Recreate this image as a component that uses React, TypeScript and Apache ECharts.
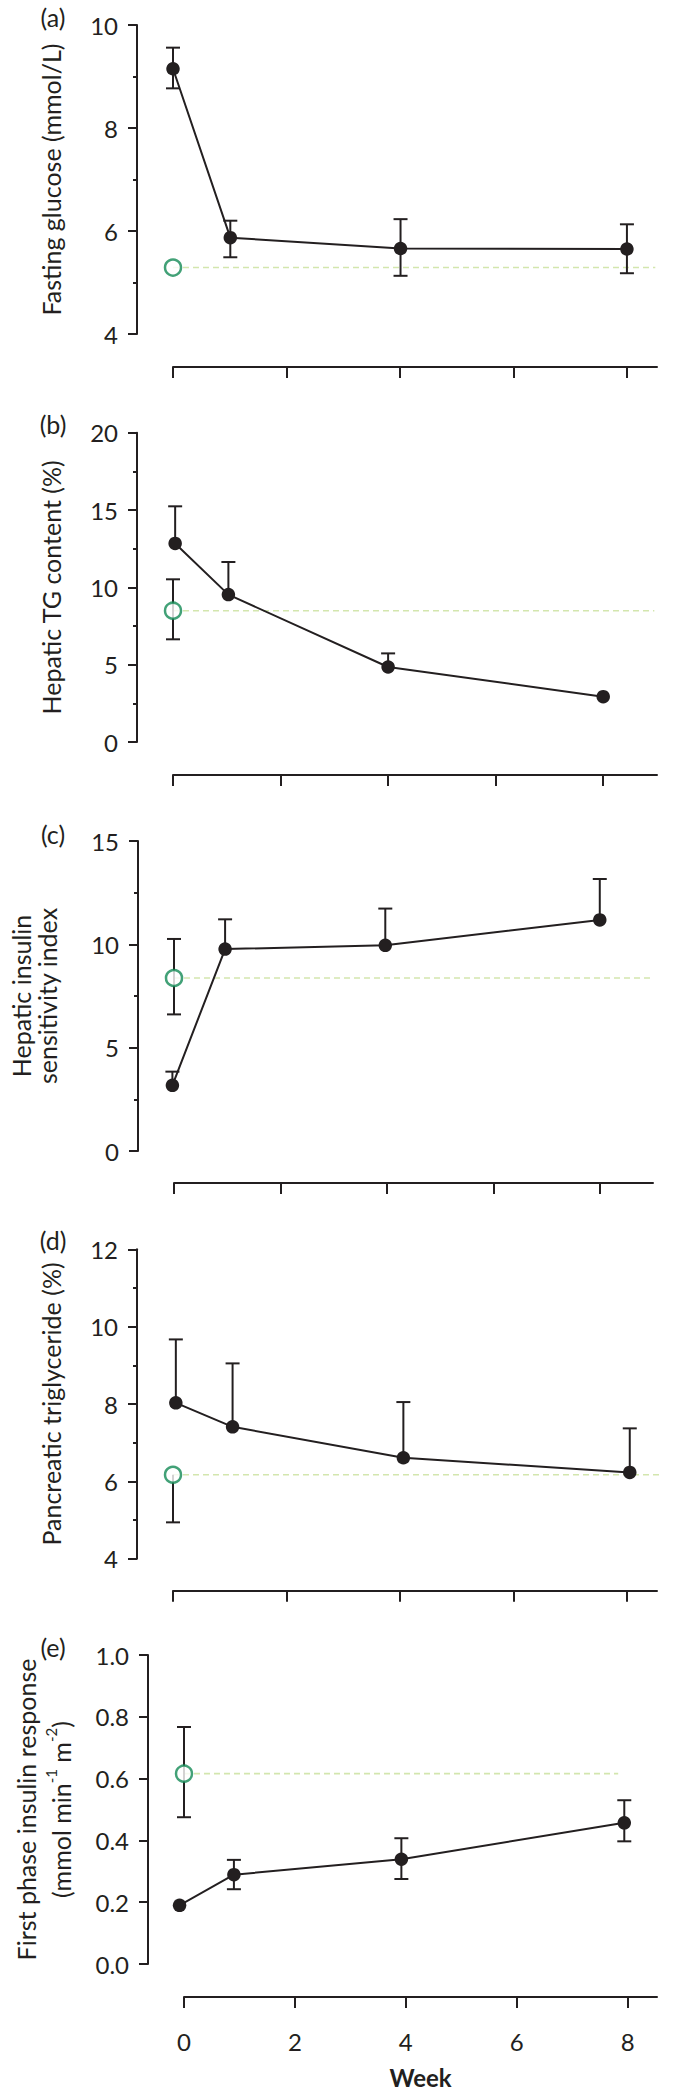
import React, { useEffect, useRef } from "react";
import * as echarts from "echarts";

// ---------------- data ----------------
const xTicks = [0, 2, 4, 6, 8];

// (a) Fasting glucose
const weeksA = [0, 1.01, 4.01, 8];
const meanA = [9.15, 5.87, 5.66, 5.65];
const upA = [9.56, 6.2, 6.23, 6.13];
const loA = [8.77, 5.49, 5.13, 5.18];
const ctrlA = 5.29;
const ctrlUpA: number | null = null;
const ctrlLoA: number | null = null;
const refEndA = 8.5;

// (b) Hepatic TG content
const weeksB = [0.04, 1.03, 4, 8];
const meanB = [12.84, 9.53, 4.85, 2.93];
const upB = [15.24, 11.64, 5.73, null];
const loB = [null, null, null, null];
const ctrlB = 8.49;
const ctrlUpB = 10.52;
const ctrlLoB = 6.64;
const refEndB = 8.95;

// (c) Hepatic insulin sensitivity index
const weeksC = [-0.03, 0.96, 3.97, 8];
const meanC = [3.18, 9.77, 9.95, 11.18];
const upC = [3.84, 11.21, 11.73, 13.16];
const loC = [null, null, null, null];
const ctrlC = 8.37;
const ctrlUpC = 10.26;
const ctrlLoC = 6.61;
const refEndC = 8.98;

// (d) Pancreatic triglyceride
const weeksD = [0.05, 1.05, 4.06, 8.05];
const meanD = [8.03, 7.41, 6.61, 6.23];
const upD = [9.67, 9.05, 8.05, 7.37];
const loD = [null, null, null, null];
const ctrlD = 6.17;
const ctrlUpD: number | null = null;
const ctrlLoD = 4.94;
const refEndD = 9.0;

// (e) First phase insulin response
const weeksE = [-0.08, 0.9, 3.92, 7.94];
const meanE = [0.19, 0.289, 0.339, 0.457];
const upE = [null, 0.337, 0.407, 0.53];
const loE = [null, 0.242, 0.275, 0.397];
const ctrlE = 0.616;
const ctrlUpE = 0.767;
const ctrlLoE = 0.475;
const refEndE = 7.83;

const panelLabels = ["(a)", "(b)", "(c)", "(d)", "(e)"];

// ---------------- styles ----------------
const INK = "#231f20";
const GREEN = "#138a55";
const REF = "#d3e6ae";
const FONT = "Lato, 'Open Sans', sans-serif";
const FS = 24;
const NFS = 25;

interface Panel {
  weeks: number[];
  mean: number[];
  up: (number | null)[];
  lo: (number | null)[];
  ctrl: number;
  ctrlUp: number | null;
  ctrlLo: number | null;
  refEnd: number;
  yMin: number;
  yMax: number;
  yInterval: number;
  minor: boolean;
  name: string;
  nameGap: number;
  lineHeight: number;
  top: number;
  height: number;
  width: number;
  xMax: number;
  xOffset: number;
  decimals: number;
  labelY: number;
}

const panels: Panel[] = [
  {
    weeks: weeksA, mean: meanA, up: upA, lo: loA, ctrl: ctrlA, ctrlUp: ctrlUpA, ctrlLo: ctrlLoA, refEnd: refEndA,
    yMin: 4, yMax: 10, yInterval: 2, minor: true, name: "Fasting glucose (mmol/L)", nameGap: 72, lineHeight: 28,
    top: 25, height: 309, width: 484, xMax: 8.53, xOffset: 33, decimals: 0, labelY: 17,
  },
  {
    weeks: weeksB, mean: meanB, up: upB, lo: loB, ctrl: ctrlB, ctrlUp: ctrlUpB, ctrlLo: ctrlLoB, refEnd: refEndB,
    yMin: 0, yMax: 20, yInterval: 5, minor: true, name: "Hepatic TG content (%)", nameGap: 72, lineHeight: 28,
    top: 432.7, height: 309.3, width: 484, xMax: 9.0, xOffset: 33, decimals: 0, labelY: 424,
  },
  {
    weeks: weeksC, mean: meanC, up: upC, lo: loC, ctrl: ctrlC, ctrlUp: ctrlUpC, ctrlLo: ctrlLoC, refEnd: refEndC,
    yMin: 0, yMax: 15, yInterval: 5, minor: true, name: "Hepatic insulin\nsensitivity index", nameGap: 78, lineHeight: 26,
    top: 841, height: 310, width: 480, xMax: 9.0, xOffset: 32, decimals: 0, labelY: 834,
  },
  {
    weeks: weeksD, mean: meanD, up: upD, lo: loD, ctrl: ctrlD, ctrlUp: ctrlUpD, ctrlLo: ctrlLoD, refEnd: refEndD,
    yMin: 4, yMax: 12, yInterval: 2, minor: true, name: "Pancreatic triglyceride (%)", nameGap: 72, lineHeight: 28,
    top: 1249.3, height: 309.4, width: 484, xMax: 8.53, xOffset: 32, decimals: 0, labelY: 1240,
  },
  {
    weeks: weeksE, mean: meanE, up: upE, lo: loE, ctrl: ctrlE, ctrlUp: ctrlUpE, ctrlLo: ctrlLoE, refEnd: refEndE,
    yMin: 0, yMax: 1, yInterval: 0.2, minor: false,
    name: "{a|First phase insulin response}\n{a|(mmol min}{s|-1}{a| m}{s|-2}{a|)}", nameGap: 70, lineHeight: 35,
    top: 1655, height: 309, width: 484, xMax: 8.53, xOffset: 33, decimals: 1, labelY: 1647,
  },
];

const GRID_LEFT = 173;
const Y_OFFSET = 36;

function errRender(params: any, api: any) {
  const x = api.value(0);
  const lo = api.value(1);
  const hi = api.value(2);
  const capLo = api.value(3);
  const capHi = api.value(4);
  const pHi = api.coord([x, hi]);
  const pLo = api.coord([x, lo]);
  const half = 7;
  const style = { stroke: INK, lineWidth: 2 };
  const children: any[] = [
    { type: "line", shape: { x1: pHi[0], y1: pHi[1], x2: pLo[0], y2: pLo[1] }, style },
  ];
  if (capHi) {
    children.push({ type: "line", shape: { x1: pHi[0] - half, y1: pHi[1], x2: pHi[0] + half, y2: pHi[1] }, style });
  }
  if (capLo) {
    children.push({ type: "line", shape: { x1: pLo[0] - half, y1: pLo[1], x2: pLo[0] + half, y2: pLo[1] }, style });
  }
  return { type: "group", children };
}

function buildOption() {
  const grid: any[] = [];
  const xAxis: any[] = [];
  const yAxis: any[] = [];
  const series: any[] = [];
  const graphic: any[] = [];

  panels.forEach((p, i) => {
    const isLast = i === panels.length - 1;
    grid.push({ left: GRID_LEFT, top: p.top, width: p.width, height: p.height, containLabel: false });
    xAxis.push({
      type: "value",
      gridIndex: i,
      min: 0,
      max: p.xMax,
      offset: p.xOffset,
      axisLine: { show: true, onZero: false, lineStyle: { color: INK, width: 2 } },
      axisTick: { show: true, customValues: xTicks, length: 11, lineStyle: { color: INK, width: 2 } },
      axisLabel: {
        show: isLast,
        customValues: xTicks,
        margin: 32,
        fontSize: FS,
        fontFamily: FONT,
        color: INK,
      },
      splitLine: { show: false },
      name: isLast ? "Week" : "",
      nameLocation: "middle",
      nameGap: 68,
      nameTextStyle: { fontSize: FS, fontFamily: FONT, fontWeight: "bold", color: INK },
    });
    yAxis.push({
      type: "value",
      gridIndex: i,
      min: p.yMin,
      max: p.yMax,
      interval: p.yInterval,
      offset: Y_OFFSET,
      axisLine: { show: true, onZero: false, lineStyle: { color: INK, width: 2 } },
      axisTick: { show: true, length: 9, lineStyle: { color: INK, width: 2 } },
      minorTick: { show: p.minor, splitNumber: 2, length: 4, lineStyle: { color: INK, width: 2 } },
      minorSplitLine: { show: false },
      splitLine: { show: false },
      axisLabel: {
        margin: 19,
        fontSize: FS,
        fontFamily: FONT,
        color: INK,
        formatter: (v: number) => v.toFixed(p.decimals),
      },
      name: p.name,
      nameLocation: "middle",
      nameGap: p.nameGap,
      nameTextStyle: {
        fontSize: NFS,
        fontFamily: FONT,
        color: INK,
        lineHeight: p.lineHeight,
        rich: {
          a: { fontSize: NFS, fontFamily: FONT, color: INK, lineHeight: p.lineHeight },
          s: { fontSize: 15, fontFamily: FONT, color: INK, verticalAlign: "top", lineHeight: p.lineHeight, padding: [0, 0, 12, 0] },
        },
      },
    });

    // reference dashed line
    series.push({
      type: "line",
      xAxisIndex: i,
      yAxisIndex: i,
      data: [[0, p.ctrl], [p.refEnd, p.ctrl]],
      symbol: "none",
      clip: false,
      silent: true,
      lineStyle: { color: REF, width: 1.6, type: [6, 4] },
      z: 1,
    });

    // error bars
    const errData: number[][] = [];
    p.weeks.forEach((w, k) => {
      const u = p.up[k];
      const l = p.lo[k];
      if (u == null && l == null) return;
      errData.push([w, l == null ? p.mean[k] : l, u == null ? p.mean[k] : u, l == null ? 0 : 1, u == null ? 0 : 1]);
    });
    if (p.ctrlUp != null || p.ctrlLo != null) {
      errData.push([
        0,
        p.ctrlLo == null ? p.ctrl : p.ctrlLo,
        p.ctrlUp == null ? p.ctrl : p.ctrlUp,
        p.ctrlLo == null ? 0 : 1,
        p.ctrlUp == null ? 0 : 1,
      ]);
    }
    series.push({
      type: "custom",
      xAxisIndex: i,
      yAxisIndex: i,
      data: errData,
      renderItem: errRender,
      clip: false,
      silent: true,
      z: 2,
    });

    // patient means
    series.push({
      type: "line",
      xAxisIndex: i,
      yAxisIndex: i,
      data: p.weeks.map((w, k) => [w, p.mean[k]]),
      symbol: "circle",
      symbolSize: 13.5,
      clip: false,
      silent: true,
      itemStyle: { color: INK, borderWidth: 0 },
      lineStyle: { color: INK, width: 2 },
      z: 3,
    });

    // control (open circle)
    series.push({
      type: "scatter",
      xAxisIndex: i,
      yAxisIndex: i,
      data: [[0, p.ctrl]],
      symbol: "circle",
      symbolSize: 16,
      clip: false,
      silent: true,
      itemStyle: { color: "#ffffff", borderColor: GREEN, borderWidth: 2.5 },
      z: 4,
    });

    graphic.push({
      type: "text",
      x: 53,
      y: p.labelY,
      style: {
        text: panelLabels[i],
        fontSize: NFS,
        fontFamily: FONT,
        fill: INK,
        textAlign: "center",
        textVerticalAlign: "middle",
      },
    });
  });

  return {
    animation: false,
    backgroundColor: "#ffffff",
    grid,
    xAxis,
    yAxis,
    series,
    graphic,
  };
}

export default function App() {
  const ref = useRef<HTMLDivElement>(null);
  useEffect(() => {
    if (!ref.current) return;
    const chart = echarts.init(ref.current, undefined, { renderer: "svg" });
    chart.setOption(buildOption() as any);
    return () => chart.dispose();
  }, []);
  return (
    <div
      ref={ref}
      style={{ position: "absolute", left: 0, top: 0, width: 679, height: 2091, background: "#fff" }}
    />
  );
}
